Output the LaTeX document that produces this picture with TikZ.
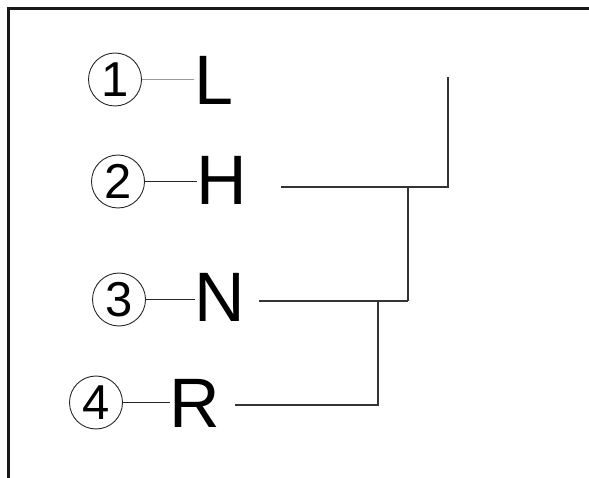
\documentclass[tikz,border=0pt]{standalone}
\usepackage{fontspec}
\setmainfont{Liberation Sans}
\begin{document}
\begin{tikzpicture}[x=1pt,y=-1pt,
  num/.style={circle,draw=black!85,line width=0.9pt,minimum size=53pt,inner sep=0pt,font=\fontsize{49}{49}\selectfont},
  letter/.style={anchor=base west,inner sep=0pt,font=\fontsize{70}{70}\selectfont},
  wire/.style={draw=black!80,line width=1.5pt},
  thin/.style={draw=black!85,line width=1.1pt},
  frame/.style={draw=black!90,line width=3pt}]
\useasboundingbox (0,0) rectangle (589,478);
\draw[frame] (8,478) -- (8,9) -- (589,9);
% circled numbers
\node[num] (c1) at (115,79.5) {1};
\node[num] (c2) at (118,181.5) {2};
\node[num] (c3) at (119,299.5) {3};
\node[num] (c4) at (96,402.5) {4};
% letters
\node[letter] (L) at (194,105) {L};
\node[letter] (H) at (196.5,205) {H};
\node[letter] (N) at (194.7,322) {N};
\node[letter] (R) at (169.5,427) {R};
% short leaders
\draw[draw=black!40,line width=1.1pt] (c1.east) -- (c1.east -| L.west);
\draw[thin] (c2.east) -- (c2.east -| H.west);
\draw[thin] (c3.east) -- (c3.east -| N.west);
\draw[thin] (c4.east) -- (c4.east -| R.west);
% wiring
\coordinate (hs) at (281,187);
\coordinate (ns) at (259,301);
\coordinate (rs) at (235,405);
\coordinate (top) at (448,77);
\coordinate (j1) at (448,187);
\coordinate (j2) at (408,187);
\coordinate (j3) at (408,301);
\coordinate (j4) at (378,301);
\coordinate (j5) at (378,405);
\draw[wire] (hs) -- (j1) -- (top);
\draw[wire] (j2) -- (j3);
\draw[wire] (ns) -- (j3);
\draw[wire] (j4) -- (j5) -- (rs);
\end{tikzpicture}
\end{document}
